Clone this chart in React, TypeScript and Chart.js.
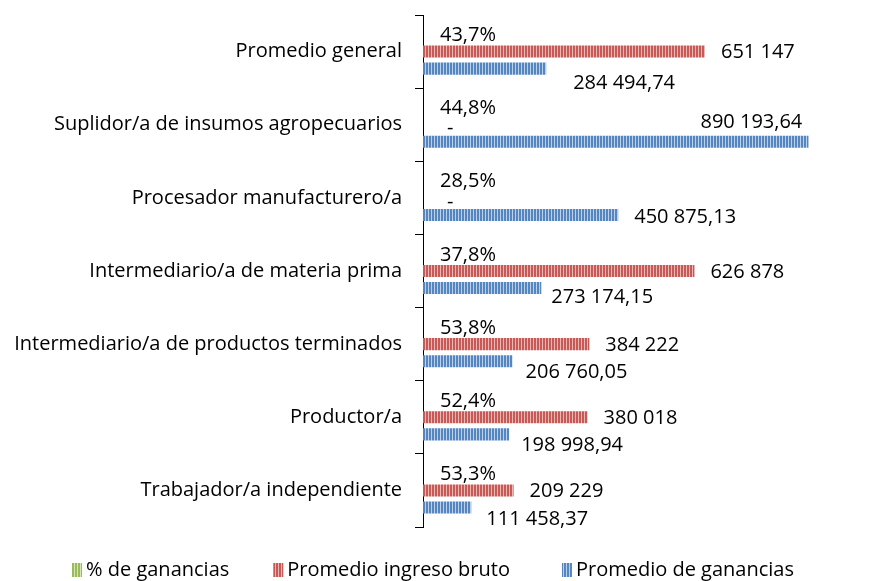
import React, { useEffect, useRef } from "react";
import { Chart, registerables } from "chart.js";

Chart.register(...registerables);

const categories = [
  "Promedio general",
  "Suplidor/a de insumos agropecuarios",
  "Procesador manufacturero/a",
  "Intermediario/a de materia prima",
  "Intermediario/a de productos terminados",
  "Productor/a",
  "Trabajador/a independiente",
];
const pctGanancias = [43.7, 44.8, 28.5, 37.8, 53.8, 52.4, 53.3];
const ingresoBruto = [651147, 0, 0, 626878, 384222, 380018, 209229];
const promedioGanancias = [284494.74, 890193.64, 450875.13, 273174.15, 206760.05, 198998.94, 111458.37];
const seriesNames = ["% de ganancias", "Promedio ingreso bruto", "Promedio de ganancias"];

// label placement tweaks (pixels) for the blue series labels
const blueLabelDx = [11, -124, 0, -6, -3, -4, -1];
const blueLabelDy = [15, -19, 2, 9, 11, 11, 12];
// gaps between legend items (pixels)
const legendGaps = [44, 52];

const FONT = "'Open Sans', 'Noto Sans', sans-serif";

function groupThousands(s: string) {
  return s.replace(/\B(?=(\d{3})+(?!\d))/g, " ");
}
function fmtInt(v: number) {
  return groupThousands(Math.round(v).toString());
}
function fmtDec(v: number) {
  const [a, b] = v.toFixed(2).split(".");
  return groupThousands(a) + "," + b;
}
function fmtPct(v: number) {
  return v.toFixed(1).replace(".", ",") + "%";
}

function makePattern(dark: string, light: string) {
  const c = document.createElement("canvas");
  c.width = 3;
  c.height = 4;
  const g = c.getContext("2d")!;
  g.fillStyle = dark;
  g.fillRect(0, 0, 2, 4);
  g.fillStyle = light;
  g.fillRect(2, 0, 1, 4);
  return g.createPattern(c, "repeat")!;
}

const labelPlugin = {
  id: "barLabels",
  afterDatasetsDraw(chart: any) {
    const ctx = chart.ctx as CanvasRenderingContext2D;
    ctx.save();
    ctx.font = `20px ${FONT}`;
    ctx.fillStyle = "#000";
    ctx.textBaseline = "middle";
    ctx.textAlign = "left";
    chart.data.datasets.forEach((ds: any, di: number) => {
      const meta = chart.getDatasetMeta(di);
      meta.data.forEach((el: any, i: number) => {
        const v = ds.data[i] as number;
        let text = "";
        let dx = 16;
        let dy = 0;
        if (di === 0) {
          text = fmtPct(pctGanancias[i]);
          dx = 17;
          dy = 1;
        } else if (di === 1) {
          if (v === 0) {
            text = "-";
            dx = 24;
            dy = 4;
          } else {
            text = fmtInt(v);
            dy = 1;
          }
        } else {
          text = fmtDec(v);
          dx = 16 + blueLabelDx[i];
          dy = blueLabelDy[i];
        }
        ctx.fillText(text, el.x + dx, el.y + dy);
      });
    });
    ctx.restore();
  },
};

const legendPlugin = {
  id: "customLegend",
  afterDraw(chart: any) {
    const ctx = chart.ctx as CanvasRenderingContext2D;
    ctx.save();
    ctx.font = `20px ${FONT}`;
    ctx.textBaseline = "middle";
    ctx.textAlign = "left";
    const boxW = 10;
    const boxH = 14;
    const gapBox = 4;
    const items = chart.data.datasets.map((d: any) => ({
      label: d.label as string,
      fill: d.backgroundColor,
      w: ctx.measureText(d.label).width,
    }));
    const total =
      items.reduce((s: number, it: any) => s + boxW + gapBox + it.w, 0) +
      legendGaps.reduce((s, g) => s + g, 0);
    let x = (chart.width - total) / 2 - 4;
    const yc = 570;
    items.forEach((it: any, i: number) => {
      ctx.fillStyle = it.fill;
      ctx.fillRect(x, yc - boxH / 2, boxW, boxH);
      x += boxW + gapBox;
      ctx.fillStyle = "#000";
      ctx.fillText(it.label, x, yc);
      x += it.w + (legendGaps[i] || 0);
    });
    ctx.restore();
  },
};

export default function App() {
  const ref = useRef<HTMLCanvasElement | null>(null);

  useEffect(() => {
    if (!ref.current) return;
    const green = makePattern("#9BBB59", "#D7E4BD");
    const red = makePattern("#C55A57", "#E8B7B6");
    const blue = makePattern("#5586C0", "#BCD0E8");
    Chart.defaults.font.family = FONT;
    const chart = new Chart(ref.current, {
      type: "bar",
      data: {
        labels: categories,
        datasets: [
          { label: seriesNames[0], data: pctGanancias.map((p) => p / 100), backgroundColor: green as any },
          { label: seriesNames[1], data: ingresoBruto, backgroundColor: red as any },
          { label: seriesNames[2], data: promedioGanancias, backgroundColor: blue as any },
        ],
      },
      options: {
        indexAxis: "y",
        animation: false,
        responsive: false,
        layout: { padding: { left: 0, right: 18, top: 15, bottom: 54 } },
        datasets: { bar: { categoryPercentage: 0.7, barPercentage: 0.706 } },
        plugins: {
          legend: { display: false },
          tooltip: { enabled: false },
        },
        scales: {
          x: { display: false, min: 0, max: 1000000 },
          y: {
            position: "left",
            afterFit: (scale: any) => {
              scale.width = 423;
              scale.paddingTop = 0;
              scale.paddingBottom = 0;
            },
            grid: {
              offset: true,
              drawOnChartArea: false,
              drawTicks: true,
              tickLength: 8,
              color: "#000",
            },
            border: { display: true, color: "#000", width: 1 },
            ticks: {
              color: "#000",
              padding: 13,
              font: { size: 20, family: FONT },
            },
          },
        },
      },
      plugins: [labelPlugin, legendPlugin],
    });
    return () => chart.destroy();
  }, []);

  return (
    <div style={{ position: "fixed", left: 0, top: 0, width: 874, height: 581, background: "#fff" }}>
      <canvas ref={ref} width={874} height={581} style={{ display: "block" }} />
    </div>
  );
}
